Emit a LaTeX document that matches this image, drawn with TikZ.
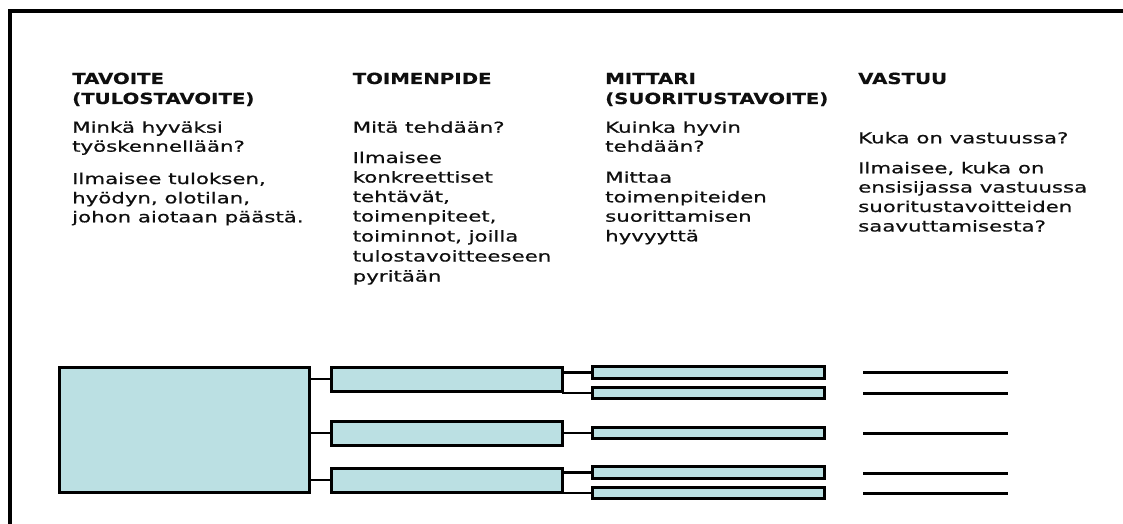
\documentclass[tikz,border=0pt]{standalone}
\usepackage{fontspec}
\newfontfamily\regf{DejaVu Sans}[FakeStretch=1.42,FakeBold=0.7]
\newfontfamily\boldf{DejaVu Sans}[FakeStretch=1.29,FakeBold=0.4]
\definecolor{boxfill}{RGB}{187,224,227}
\definecolor{txt}{RGB}{15,15,15}
\begin{document}
\begin{tikzpicture}[x=1pt,y=-1pt,
  txtline/.style={anchor=base west,inner sep=0pt,text=txt,font=\regf\fontsize{15}{18}\selectfont},
  headline/.style={anchor=base west,inner sep=0pt,text=txt,font=\boldf\bfseries\fontsize{15.3}{18}\selectfont},
  box/.style={draw=black,line width=3pt,fill=boxfill,rectangle,inner sep=0pt},
  conn/.style={draw=black,line width=2.4pt},
  rline/.style={draw=black,line width=3pt},
  frame/.style={draw=black,line width=3.5pt}]
\useasboundingbox (0,0) rectangle (1123,524);
% frame
\coordinate (fr1) at (10,524);
\coordinate (fr2) at (10,11);
\coordinate (fr3) at (1123,11);
\draw[frame] (fr1) -- (fr2) -- (fr3);
% column 1
\node[headline] (h1a) at (72,84) {TAVOITE};
\node[headline] (h1b) at (72,104) {(TULOSTAVOITE)};
\foreach \yy/\tt [count=\i] in {132.7/{Minkä hyväksi},151.7/{työskennellään?},184/{Ilmaisee tuloksen,},203.3/{hyödyn, olotilan,},222.3/{johon aiotaan päästä.}}
  \node[txtline] (c1l\i) at (72,\yy) {\tt};
% column 2
\node[headline] (h2a) at (352.5,84) {TOIMENPIDE};
\foreach \yy/\tt [count=\i] in {132.7/{Mitä tehdään?},163/{Ilmaisee},182.5/{konkreettiset},202/{tehtävät,},221.5/{toimenpiteet,},241.5/{toiminnot, joilla},261.5/{tulostavoitteeseen},281.5/{pyritään}}
  \node[txtline] (c2l\i) at (352.5,\yy) {\tt};
% column 3
\node[headline] (h3a) at (605,84) {MITTARI};
\node[headline] (h3b) at (605,104) {(SUORITUSTAVOITE)};
\foreach \yy/\tt [count=\i] in {132.7/{Kuinka hyvin},151.7/{tehdään?},182.7/{Mittaa},202.3/{toimenpiteiden},221.7/{suorittamisen},241.3/{hyvyyttä}}
  \node[txtline] (c3l\i) at (605,\yy) {\tt};
% column 4
\node[headline] (h4a) at (858,84) {VASTUU};
\foreach \yy/\tt [count=\i] in {143.3/{Kuka on vastuussa?},173.3/{Ilmaisee, kuka on},192.5/{ensisijassa vastuussa},212/{suoritustavoitteiden},231.5/{saavuttamisesta?}}
  \node[txtline] (c4l\i) at (858,\yy) {\tt};
% boxes
\node[box,minimum width=250pt,minimum height=125pt] (big) at (184,429.5) {};
\node[box,minimum width=231pt,minimum height=24pt] (m1) at (446.5,379) {};
\node[box,minimum width=231pt,minimum height=24pt] (m2) at (446.5,433) {};
\node[box,minimum width=231pt,minimum height=24pt] (m3) at (446.5,480) {};
\node[box,minimum width=232pt,minimum height=11.5pt] (s1a) at (708,372.5) {};
\node[box,minimum width=232pt,minimum height=11.5pt] (s1b) at (708,393) {};
\node[box,minimum width=232pt,minimum height=11.5pt] (s2) at (708,433) {};
\node[box,minimum width=232pt,minimum height=11.5pt] (s3a) at (708,472.5) {};
\node[box,minimum width=232pt,minimum height=11.5pt] (s3b) at (708,493) {};
% connectors
\draw[conn] (big.east |- m1.west) -- (m1.west);
\draw[conn] (big.east |- m2.west) -- (m2.west);
\draw[conn] (big.east |- m3.west) -- (m3.west);
\draw[conn] (m1.east |- s1a.west) -- (s1a.west);
\draw[conn] (m1.south east) -- (m1.east |- s1b.west) -- (s1b.west);
\draw[conn] (m2.east |- s2.west) -- (s2.west);
\draw[conn] (m3.east |- s3a.west) -- (s3a.west);
\draw[conn] (m3.south east) -- (m3.east |- s3b.west) -- (s3b.west);
% responsibility lines
\foreach \yy/\nm in {372.5/r1a,393/r1b,433/r2,473/r3a,493/r3b}{
  \coordinate (\nm s) at (863,\yy);
  \coordinate (\nm e) at (1008,\yy);
  \draw[rline] (\nm s) -- (\nm e);
}
\end{tikzpicture}
\end{document}
